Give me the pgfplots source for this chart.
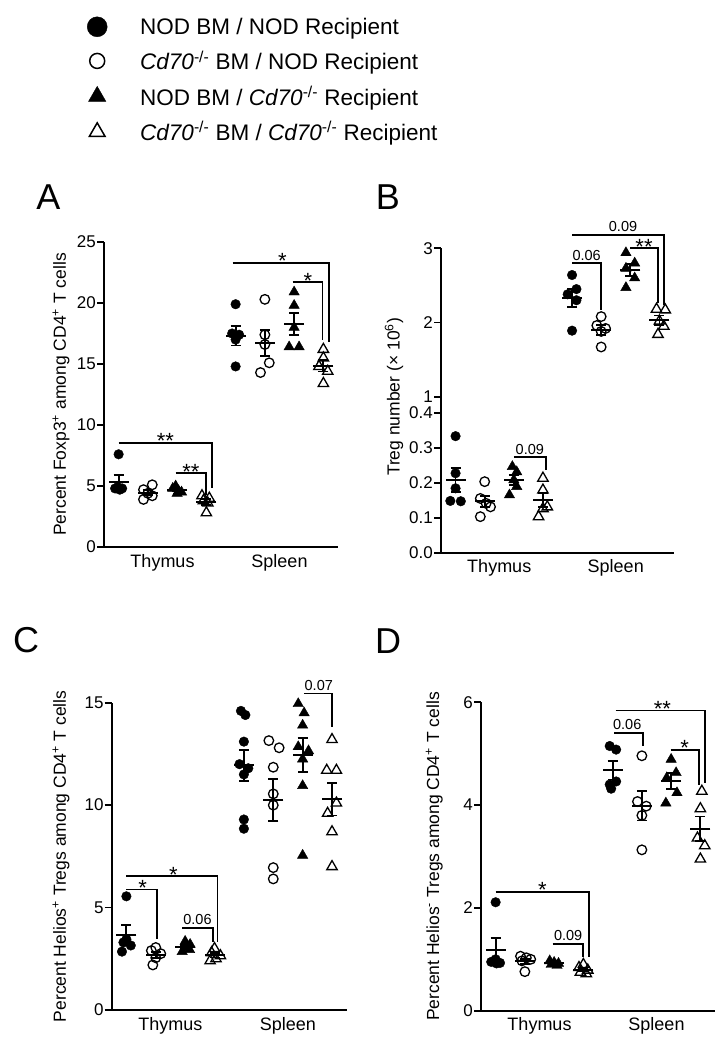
\documentclass[border=0pt]{standalone}
\usepackage{fontspec}
\setmainfont{Liberation Sans}
\usepackage{pgfplots}
\pgfplotsset{compat=1.18}
\newcommand{\cd}{\textit{Cd70}\textsuperscript{-/-}}
\newcommand{\fs}[1]{\fontsize{#1}{#1}\selectfont}
\tikzset{
  br/.style={line width=1.8pt},
  st/.style={font=\fs{22}, anchor=base, yshift=-6pt, inner sep=0pt},
  pv/.style={font=\fs{14.5}, anchor=base, yshift=3pt, inner sep=0pt},
}
\pgfplotsset{
  panel/.style={
    scale only axis, clip=false,
    axis x line*=bottom, axis y line*=left,
    axis line style={line width=2pt, -},
    xmin=0.5, xmax=8.5,
    xtick={2.5,6.5}, xticklabels={Thymus,Spleen},
    x tick style={draw=none},
    y tick style={line width=1.8pt, black},
    tick align=outside, major tick length=7pt,
    xticklabel style={font=\fs{18}, inner sep=0pt},
    yticklabel style={font=\fs{17}, inner sep=1pt},
    /pgf/number format/assume math mode=true,
    ylabel style={font=\fs{17.5}, anchor=center},
  },
  g1/.style={only marks, mark=*, mark size=4.8pt, black},
  g2/.style={only marks, mark=o, mark size=4.8pt, black, mark options={line width=1.3pt}},
  g3/.style={only marks, mark=triangle*, mark size=6pt, black},
  g4/.style={only marks, mark=triangle, mark size=6pt, black, mark options={line width=1.3pt}},
  mbar/.style={only marks, mark=-, mark size=10pt, black, mark options={line width=2pt},
    error bars/y dir=both, error bars/y explicit, error bars/error bar style={line width=1.8pt},
    error bars/error mark=-, error bars/error mark options={rotate=90, mark size=5pt, line width=1.8pt}},
}
\begin{document}
\begin{tikzpicture}
\path[use as bounding box] (0,0) rectangle (728pt,-1050pt);

% ---------------- Panel A ----------------
\begin{axis}[panel, at={(104pt,-547pt)}, anchor=south west,
  width=234pt, height=305pt, ymin=0, ymax=25, ytick={0,5,10,15,20,25},
  ylabel={Percent Foxp3\textsuperscript{+} among CD4\textsuperscript{+} T cells},
  ylabel style={at={(axis description cs:-0.184,0.5)}},
  legend style={at={(axis description cs:-0.0726,1.742)}, anchor=north west,
    draw=none, fill=none, inner sep=0pt, row sep=11pt, font=\fs{22.5},
    cells={anchor=west}, nodes={inner sep=2pt}},
  legend image code/.code={\path[draw=none, fill=none] (-10pt,-8pt) rectangle (41pt,8pt); \draw[#1] plot coordinates {(0pt,0pt)};},
]
\addplot[forget plot, g1] coordinates {(1,7.6)(0.88,4.8)(1.12,4.8)(0.97,4.9)(1.04,4.7)(5,19.9)(4.88,17.5)(5.12,17.4)(5,17.0)(5,14.8)};
\addplot[forget plot, g2] coordinates {(2.15,5.1)(1.85,4.7)(2,4.4)(2.15,4.2)(1.85,3.9)(6,20.3)(6,17.4)(6,16.6)(6.15,15.1)(5.85,14.3)};
\addplot[forget plot, g3] coordinates {(2.95,5.0)(2.85,4.8)(3.05,4.6)(3.15,4.5)(3.0,4.4)(7,20.9)(7,19.8)(7,18.0)(6.83,16.4)(7.17,16.4)};
\addplot[forget plot, g4] coordinates {(3.85,4.2)(4.1,4.0)(3.9,3.8)(4.05,3.6)(4.0,2.8)(8,16.2)(8,15.5)(7.85,14.8)(8.15,14.4)(8,13.4)};
\addplot[forget plot, mbar] coordinates {(1,5.36)+-(0,0.56) (2,4.46)+-(0,0.21) (3,4.66)+-(0,0.11) (4,3.68)+-(0,0.24) (5,17.32)+-(0,0.81) (6,16.72)+-(0,1.04) (7,18.3)+-(0,0.90) (8,14.86)+-(0,0.48)};
\draw[br] (axis cs:1,8.55) -- (axis cs:4.2,8.55) -- (axis cs:4.2,4.85);
\node[st] at (axis cs:2.6,8.55) {**};
\draw[br] (axis cs:2.95,6.05) -- (axis cs:4.0,6.05) -- (axis cs:4.0,4.3);
\node[st] at (axis cs:3.47,6.05) {**};
\draw[br] (axis cs:4.9,23.3) -- (axis cs:8.2,23.3) -- (axis cs:8.2,16.8);
\node[st] at (axis cs:6.6,23.3) {*};
\draw[br] (axis cs:6.95,21.7) -- (axis cs:7.97,21.7) -- (axis cs:7.97,17.0);
\node[st] at (axis cs:7.47,21.7) {*};
\addlegendimage{mark=*, mark size=10pt, draw=black, fill=black}
\addlegendentry{NOD BM / NOD Recipient}
\addlegendimage{mark=o, mark size=7.5pt, draw=black, mark options={line width=1.5pt}}
\addlegendentry{\cd{} BM / NOD Recipient}
\addlegendimage{mark=triangle*, mark size=10pt, draw=black, fill=black}
\addlegendentry{NOD BM / \cd{} Recipient}
\addlegendimage{mark=triangle, mark size=9pt, draw=black, mark options={line width=1.5pt}}
\addlegendentry{\cd{} BM / \cd{} Recipient}
\end{axis}

% ---------------- Panel B (upper) ----------------
\begin{axis}[panel, at={(441pt,-396.7pt)}, anchor=south west,
  width=233pt, height=148.4pt, ymin=1, ymax=3, ytick={1,2,3},
  axis x line=none]
\addplot[g1] coordinates {(5,2.64)(5.15,2.45)(4.85,2.38)(5.15,2.30)(5,1.89)};
\addplot[g2] coordinates {(6,2.08)(5.85,1.96)(6.15,1.92)(6,1.88)(6,1.67)};
\addplot[g3] coordinates {(6.85,2.94)(7.15,2.80)(6.85,2.73)(7.15,2.60)(6.85,2.47)};
\addplot[g4] coordinates {(7.9,2.18)(8.2,2.17)(8,2.02)(8.15,1.95)(7.95,1.84)};
\addplot[mbar] coordinates {(5,2.33)+-(0,0.124) (6,1.90)+-(0,0.067) (7,2.71)+-(0,0.081) (8,2.03)+-(0,0.065)};
\draw[br] (axis cs:5,2.80) -- (axis cs:6.0,2.80) -- (axis cs:6.0,2.17);
\node[pv] at (axis cs:5.5,2.80) {0.06};
\draw[br] (axis cs:7,3.0) -- (axis cs:7.95,3.0) -- (axis cs:7.95,2.26);
\node[st] at (axis cs:7.47,3.0) {**};
\draw[br] (axis cs:5,3.18) -- (axis cs:8.15,3.18) -- (axis cs:8.15,2.24);
\node[pv] at (axis cs:6.75,3.18) {0.09};
\end{axis}

% ---------------- Panel B (lower) ----------------
\begin{axis}[panel, at={(441pt,-552.7pt)}, anchor=south west,
  width=233pt, height=140pt, ymin=0, ymax=0.4, ytick={0,0.1,0.2,0.3,0.4},
  yticklabel style={/pgf/number format/.cd, fixed, fixed zerofill, precision=1}]
\addplot[g1] coordinates {(1,0.333)(1,0.227)(1,0.184)(0.82,0.148)(1.18,0.147)};
\addplot[g2] coordinates {(2,0.203)(1.85,0.155)(2.05,0.141)(2.2,0.131)(1.85,0.103)};
\addplot[g3] coordinates {(2.95,0.246)(3.1,0.231)(3,0.208)(3.1,0.189)(2.85,0.165)};
\addplot[g4] coordinates {(4,0.213)(4,0.179)(4.15,0.131)(4,0.126)(3.85,0.103)};
\addplot[mbar] coordinates {(1,0.208)+-(0,0.035) (2,0.147)+-(0,0.016) (3,0.208)+-(0,0.014) (4,0.150)+-(0,0.020)};
\draw[br] (axis cs:3,0.273) -- (axis cs:4.1,0.273) -- (axis cs:4.1,0.236);
\node[pv] at (axis cs:3.55,0.273) {0.09};
\end{axis}
\draw[line width=2pt] (441pt,-396.7pt) -- (441pt,-412.7pt);
\node[rotate=90, font=\fs{17.5}] at (394pt,-397pt) {Treg number (× 10\textsuperscript{6})};

% ---------------- Panel C ----------------
\begin{axis}[panel, at={(111.7pt,-1010pt)}, anchor=south west,
  width=235pt, height=307.3pt, ymin=0, ymax=15, ytick={0,5,10,15},
  ylabel={Percent Helios\textsuperscript{+} Tregs among CD4\textsuperscript{+} T cells},
  ylabel style={at={(axis description cs:-0.216,0.5)}}]
\addplot[g1] coordinates {(1,5.55)(1,3.45)(0.9,3.3)(1.15,3.15)(0.85,2.85)(4.9,14.6)(5.05,14.4)(5,13.1)(4.85,12.0)(5.15,11.8)(5,11.5)(5,9.3)(5,8.85)};
\addplot[g2] coordinates {(2,3.05)(1.85,2.9)(2.17,2.75)(2,2.55)(1.9,2.2)(5.85,13.15)(6.2,12.8)(6,11.85)(6,10.55)(6,10.0)(6,6.95)(6,6.4)};
\addplot[g3] coordinates {(3,3.35)(3.17,3.2)(3.05,3.05)(3.15,2.95)(2.9,2.85)(6.85,14.95)(7.05,14.5)(7,13.9)(6.85,12.85)(7.2,12.65)(7,12.25)(7,10.95)(7,7.55)};
\addplot[g4] coordinates {(4,3.0)(3.9,2.8)(4.2,2.65)(4.05,2.5)(3.85,2.4)(8,13.2)(7.82,11.7)(8.15,11.7)(8.15,10.1)(7.85,9.6)(8,8.7)(8,7.0)};
\addplot[mbar] coordinates {(1,3.66)+-(0,0.48) (2,2.69)+-(0,0.15) (3,3.08)+-(0,0.09) (4,2.67)+-(0,0.11) (5,11.94)+-(0,0.75) (6,10.24)+-(0,1.02) (7,12.45)+-(0,0.84) (8,10.28)+-(0,0.79)};
\draw[br] (axis cs:1,6.53) -- (axis cs:4.1,6.53) -- (axis cs:4.1,3.33);
\node[st] at (axis cs:2.6,6.53) {*};
\draw[br] (axis cs:1,5.88) -- (axis cs:2.05,5.88) -- (axis cs:2.05,3.49);
\node[st] at (axis cs:1.55,5.88) {*};
\draw[br] (axis cs:2.9,4.01) -- (axis cs:3.95,4.01) -- (axis cs:3.95,3.33);
\node[pv] at (axis cs:3.42,4.01) {0.06};
\draw[br] (axis cs:7.04,15.45) -- (axis cs:8.0,15.45) -- (axis cs:8.0,13.83);
\node[pv] at (axis cs:7.55,15.45) {0.07};
\end{axis}

% ---------------- Panel D ----------------
\begin{axis}[panel, at={(481pt,-1010.7pt)}, anchor=south west,
  width=234pt, height=308.4pt, ymin=0, ymax=6, ytick={0,2,4,6},
  ylabel={Percent Helios\textsuperscript{-} Tregs among CD4\textsuperscript{+} T cells},
  ylabel style={at={(axis description cs:-0.20,0.5)}}]
\addplot[g1] coordinates {(1,2.11)(0.85,0.95)(1.0,1.0)(1.15,0.93)(1.03,0.92)(4.9,5.15)(5.12,5.08)(5.12,4.46)(4.9,4.4)(4.95,4.32)};
\addplot[g2] coordinates {(1.85,1.06)(2.05,1.03)(2.2,1.0)(1.9,0.97)(2.0,0.76)(6,4.96)(5.85,4.07)(6.15,3.98)(6,3.8)(6,3.13)};
\addplot[g3] coordinates {(2.85,0.97)(3.0,0.94)(3.15,0.92)(2.9,0.90)(3.1,0.88)(7,4.89)(7.17,4.63)(6.85,4.53)(7.2,4.24)(6.82,4.04)};
\addplot[g4] coordinates {(4,0.9)(3.85,0.84)(4.15,0.79)(3.9,0.75)(4.1,0.72)(8.05,4.27)(8,3.93)(7.9,3.36)(8.15,3.21)(8,2.95)};
\addplot[mbar] coordinates {(1,1.18)+-(0,0.23) (2,0.96)+-(0,0.053) (3,0.92)+-(0,0.016) (4,0.80)+-(0,0.032) (5,4.68)+-(0,0.18) (6,3.99)+-(0,0.29) (7,4.47)+-(0,0.15) (8,3.54)+-(0,0.24)};
\draw[br] (axis cs:1,2.31) -- (axis cs:4.18,2.31) -- (axis cs:4.18,1.05);
\node[st] at (axis cs:2.6,2.31) {*};
\draw[br] (axis cs:2.95,1.30) -- (axis cs:4.0,1.30) -- (axis cs:4.0,1.05);
\node[pv] at (axis cs:3.48,1.30) {0.09};
\draw[br] (axis cs:5.05,5.41) -- (axis cs:6.04,5.41) -- (axis cs:6.04,5.15);
\node[pv] at (axis cs:5.5,5.41) {0.06};
\draw[br] (axis cs:6.98,5.08) -- (axis cs:7.95,5.08) -- (axis cs:7.95,4.40);
\node[st] at (axis cs:7.46,5.08) {*};
\draw[br] (axis cs:5.1,5.84) -- (axis cs:8.15,5.84) -- (axis cs:8.15,4.43);
\node[st] at (axis cs:6.7,5.84) {**};
\end{axis}

% panel letters
\node[font=\fs{36}, inner sep=0pt] at (48.5pt,-197pt) {A};
\node[font=\fs{36}, inner sep=0pt] at (388pt,-197pt) {B};
\node[font=\fs{36}, inner sep=0pt] at (26pt,-640pt) {C};
\node[font=\fs{36}, inner sep=0pt] at (388pt,-641pt) {D};
\end{tikzpicture}
\end{document}
